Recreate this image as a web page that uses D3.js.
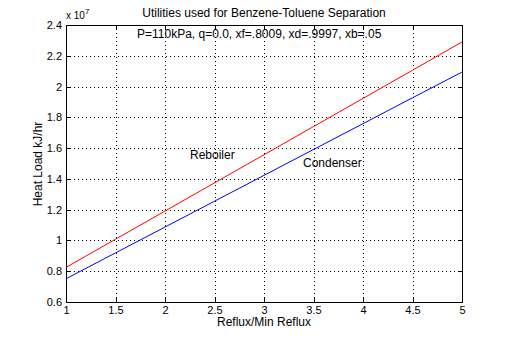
<!DOCTYPE html>
<html>
<head>
<meta charset="utf-8">
<title>Utilities used for Benzene-Toluene Separation</title>
<script src="https://d3js.org/d3.v7.min.js"></script>
<style>
    body { margin: 0; background: #fff; }
    svg { font-family: "Liberation Sans", Arial, sans-serif; font-size: 12px; }
    .grid line { stroke: #000; stroke-dasharray: 1,3; shape-rendering: crispEdges; }
    .axis path, .axis line { stroke: #000; shape-rendering: crispEdges; }
    .axis text { fill: #000; font-size: 11px; font-family: "Liberation Sans", Arial, sans-serif; }
</style>
</head>
<body>
<script>
    // reflux ratio (multiple of min reflux) and heat loads (x 10^7 kJ/hr)
    var refluxRatio = [1, 1.5, 2, 2.5, 3, 3.5, 4, 4.5, 5];
    var reboilerLoad = [0.825, 1.008, 1.191, 1.374, 1.557, 1.740, 1.923, 2.106, 2.290];
    var condenserLoad = [0.751, 0.919, 1.087, 1.255, 1.423, 1.591, 1.759, 1.927, 2.094];
    var xTicks = [1, 1.5, 2, 2.5, 3, 3.5, 4, 4.5, 5];
    var yTicks = [0.6, 0.8, 1, 1.2, 1.4, 1.6, 1.8, 2, 2.2, 2.4];

    var W = 512, H = 340;
    var margin = { top: 25, left: 66 },
        width = 462 - margin.left,
        height = 302 - margin.top;

    var svg = d3.select("body").append("svg")
        .attr("width", W)
        .attr("height", H);

    var g = svg.append("g")
        .attr("transform", "translate(" + margin.left + "," + margin.top + ")");

    var x = d3.scaleLinear().domain([1, 5]).range([0, width]);
    var y = d3.scaleLinear().domain([0.6, 2.4]).range([height, 0]);

    // dotted grid
    var grid = g.append("g").attr("class", "grid");
    grid.selectAll(".vx").data(xTicks.slice(1, -1)).enter().append("line")
        .attr("x1", function (d) { return Math.round(x(d)) + 0.5; })
        .attr("x2", function (d) { return Math.round(x(d)) + 0.5; })
        .attr("y1", 0).attr("y2", height);
    grid.selectAll(".hy").data(yTicks.slice(1, -1)).enter().append("line")
        .attr("y1", function (d) { return Math.round(y(d)) + 0.5; })
        .attr("y2", function (d) { return Math.round(y(d)) + 0.5; })
        .attr("x1", 0).attr("x2", width);

    // axes, MATLAB style ticks inside
    var fmt = function (d) { return d3.format("")(d); };
    g.append("g").attr("class", "axis")
        .attr("transform", "translate(0," + height + ")")
        .call(d3.axisBottom(x).tickValues(xTicks).tickFormat(fmt).tickSizeInner(-4).tickSizeOuter(0).tickPadding(4));
    g.append("g").attr("class", "axis")
        .call(d3.axisLeft(y).tickValues(yTicks).tickFormat(fmt).tickSizeInner(-4).tickSizeOuter(0).tickPadding(4));
    g.append("g").attr("class", "axis")
        .call(d3.axisTop(x).tickValues(xTicks).tickFormat("").tickSizeInner(-4).tickSizeOuter(0));
    g.append("g").attr("class", "axis")
        .attr("transform", "translate(" + width + ",0)")
        .call(d3.axisRight(y).tickValues(yTicks).tickFormat("").tickSizeInner(-4).tickSizeOuter(0));

    // lines
    var line = d3.line()
        .x(function (d) { return x(d[0]); })
        .y(function (d) { return y(d[1]); });

    g.append("path")
        .datum(d3.zip(refluxRatio, reboilerLoad))
        .attr("fill", "none").attr("stroke", "#ff0000").attr("stroke-width", 1)
        .attr("d", line);
    g.append("path")
        .datum(d3.zip(refluxRatio, condenserLoad))
        .attr("fill", "none").attr("stroke", "#0000ff").attr("stroke-width", 1)
        .attr("d", line);

    // texts
    svg.append("text").attr("x", 264).attr("y", 17).attr("text-anchor", "middle")
        .text("Utilities used for Benzene-Toluene Separation");
    svg.append("text").attr("x", 137).attr("y", 38)
        .text("P=110kPa, q=0.0, xf=.8009, xd=.9997, xb=.05");
    svg.append("text").attr("x", 190).attr("y", 159)
        .text("Reboiler");
    svg.append("text").attr("x", 303).attr("y", 167)
        .text("Condenser");
    svg.append("text").attr("x", 264).attr("y", 326).attr("text-anchor", "middle")
        .text("Reflux/Min Reflux");
    svg.append("text").attr("transform", "translate(42,164) rotate(-90)")
        .attr("text-anchor", "middle").text("Heat Load kJ/hr");

    var exp = svg.append("text").attr("x", 66).attr("y", 19).style("font-size", "10px");
    exp.append("tspan").text("x 10");
    exp.append("tspan").attr("dy", -5).style("font-size", "8px").text("7");
</script>
</body>
</html>
